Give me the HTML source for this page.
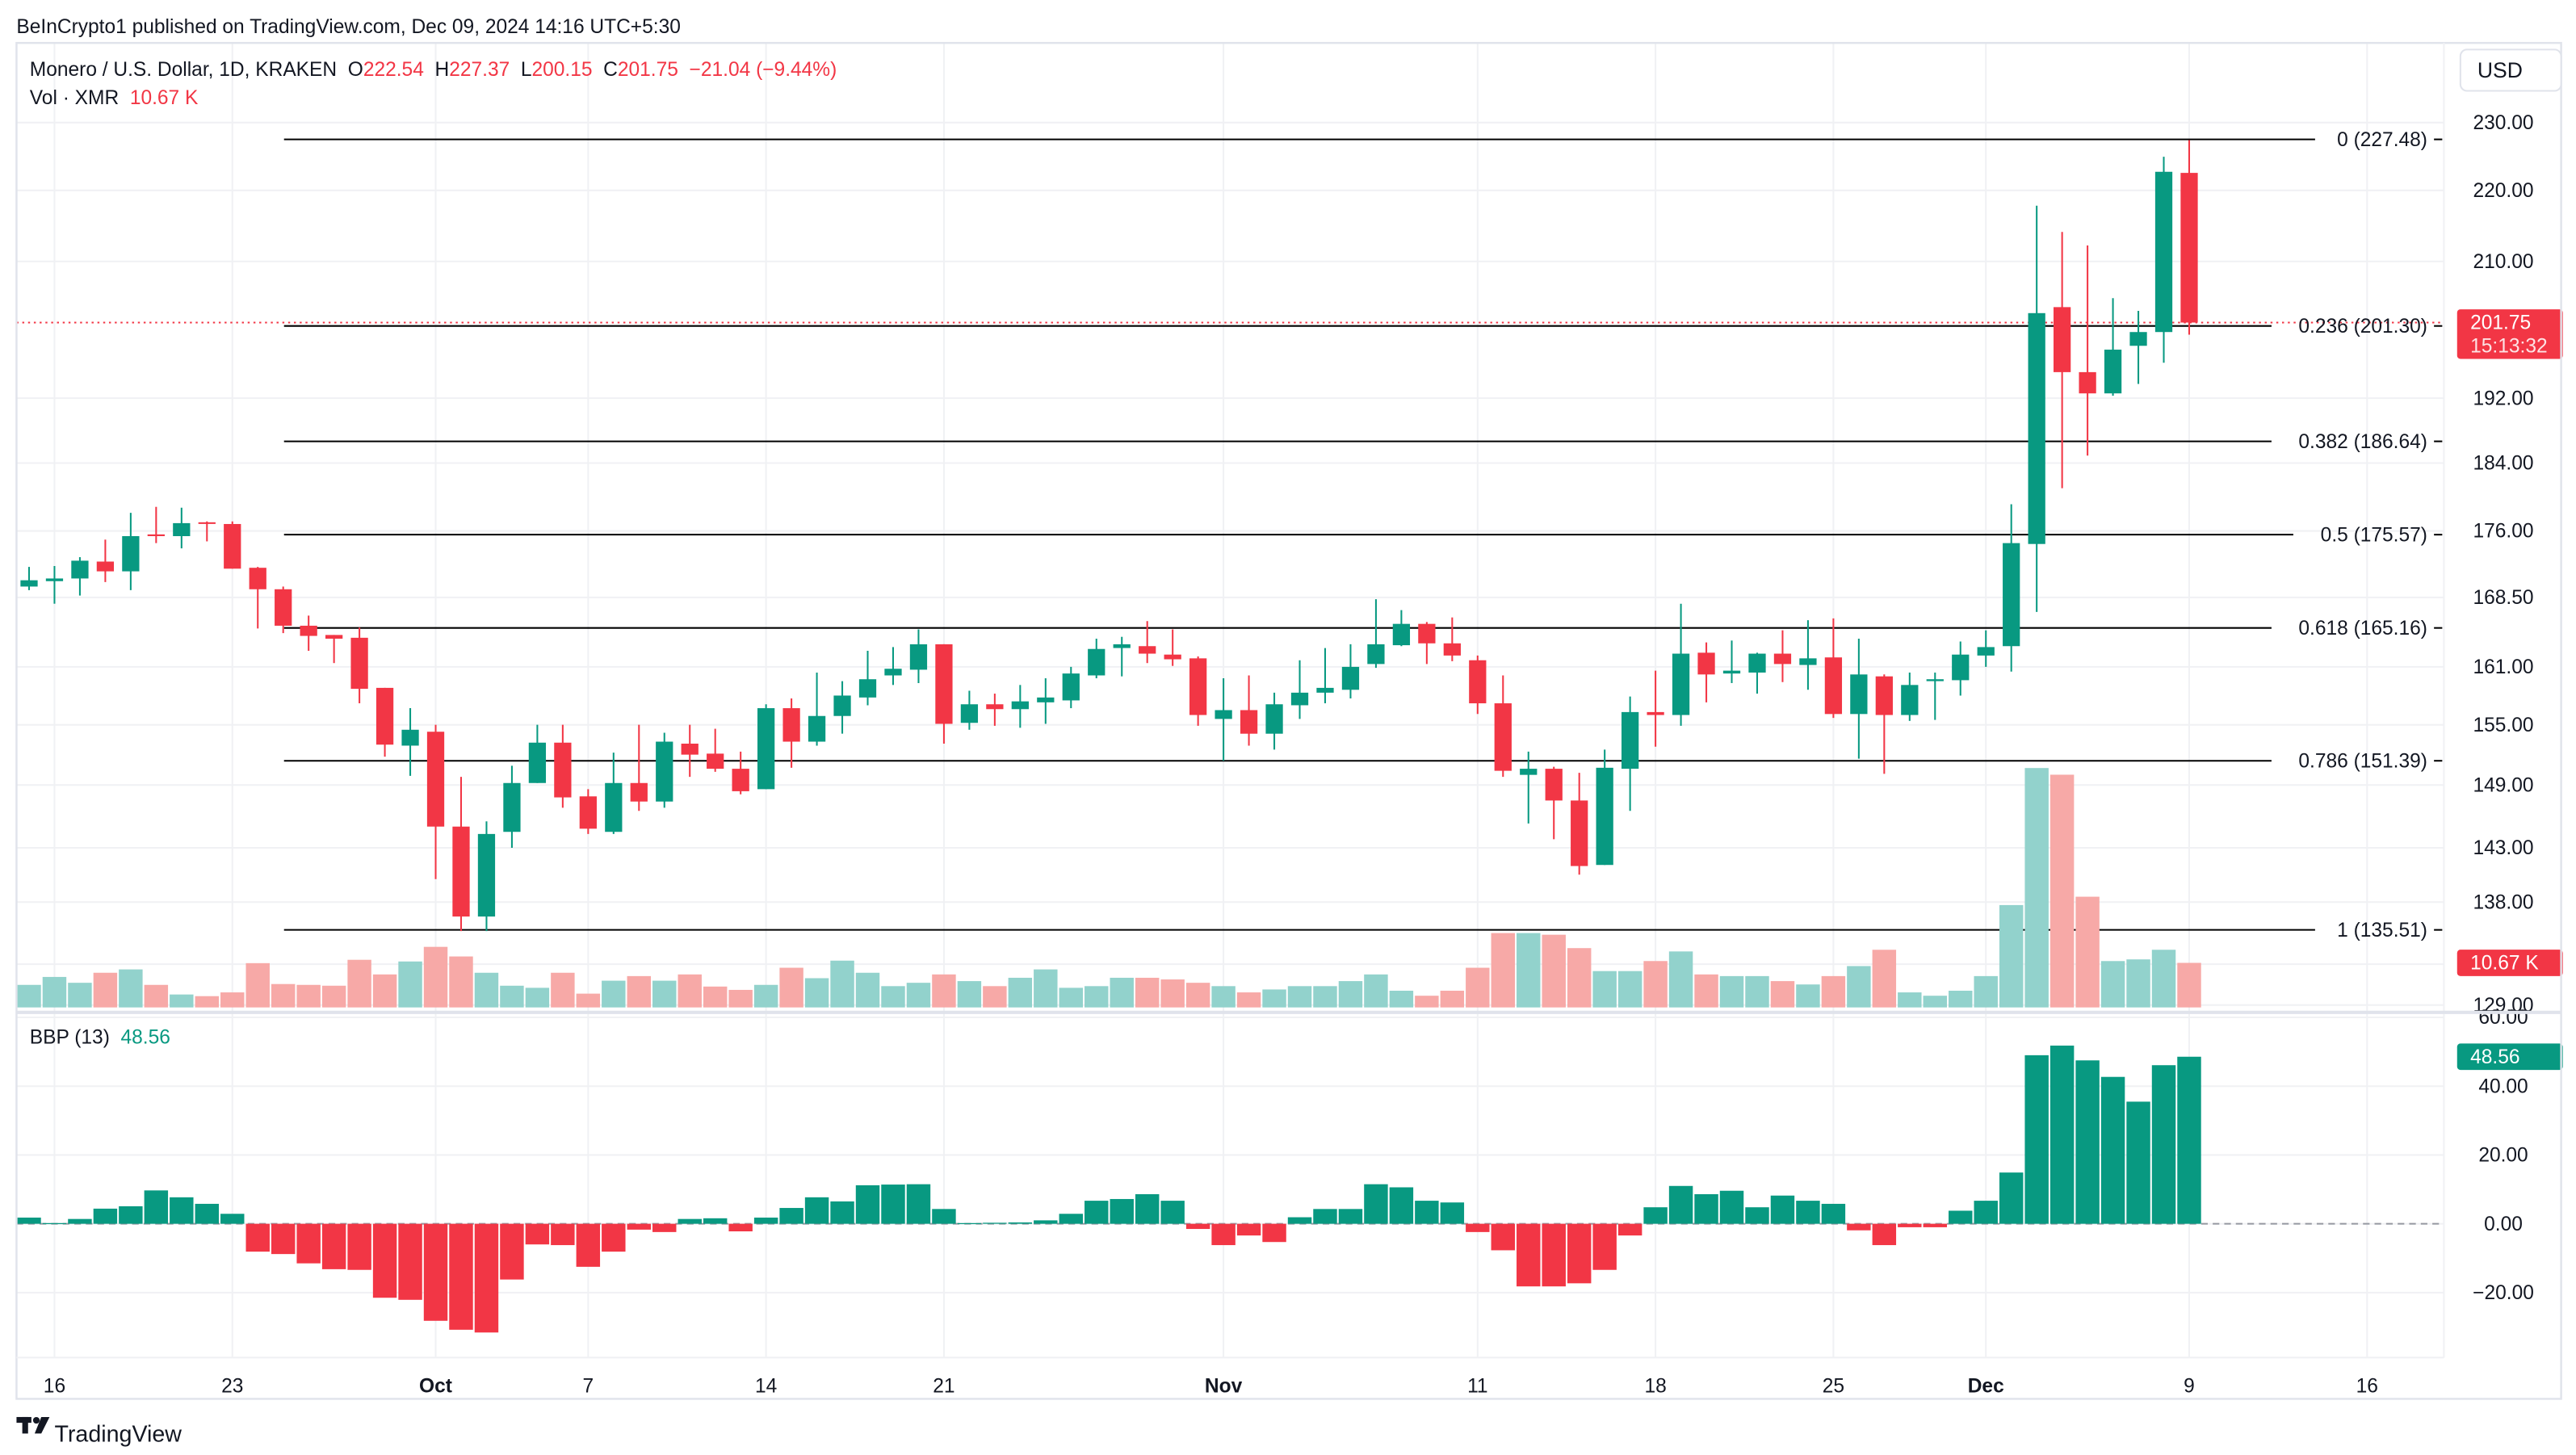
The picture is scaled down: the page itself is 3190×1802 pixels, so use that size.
<!DOCTYPE html>
<html><head><meta charset="utf-8"><title>XMR/USD chart</title>
<style>
html,body{margin:0;padding:0;background:#fff;}
svg{display:block;font-family:"Liberation Sans",Arial,sans-serif;}
text{white-space:pre;}
</style></head>
<body>
<svg id="chart" width="3190" height="1802" viewBox="0 0 1560 881" preserveAspectRatio="none" xmlns="http://www.w3.org/2000/svg" xml:space="preserve">
<rect x="0" y="0" width="1560" height="881" fill="#ffffff"/>
<text x="10" y="20" font-size="12" fill="#131722">BeInCrypto1 published on TradingView.com, Dec 09, 2024 14:16 UTC+5:30</text>
<g id="grid"></g>
<g id="fib"></g>
<g id="vol"></g>
<g id="candles"></g>
<g id="bbp"></g>
<g id="axes"></g>
<rect x="10" y="26" width="1541" height="821" fill="none" stroke="#e0e3eb" stroke-width="1.2"/>
<line x1="1480" y1="26" x2="1480" y2="822" stroke="#f0f1f4" stroke-width="1"/>
<line x1="10" y1="613" x2="1551" y2="613" stroke="#e0e3eb" stroke-width="2"/>
<line x1="10" y1="822" x2="1480" y2="822" stroke="#f0f1f4" stroke-width="1"/>
<g>
<text x="18" y="46" font-size="12" fill="#131722">Monero / U.S. Dollar, 1D, KRAKEN  O<tspan fill="#f23645">222.54</tspan>  H<tspan fill="#f23645">227.37</tspan>  L<tspan fill="#f23645">200.15</tspan>  C<tspan fill="#f23645">201.75</tspan>  <tspan fill="#f23645">−21.04 (−9.44%)</tspan></text>
<text x="18" y="63" font-size="12" fill="#131722">Vol · XMR  <tspan fill="#f23645">10.67 K</tspan></text>
<text x="18" y="632" font-size="12" fill="#131722">BBP (13)  <tspan fill="#089981">48.56</tspan></text>
</g>
<g>
<rect x="1490" y="30" width="61" height="25" rx="4" fill="#fff" stroke="#e0e3eb"/>
<text x="1514" y="47" font-size="13" fill="#131722" text-anchor="middle">USD</text>
</g>
<g>
<rect x="10" y="858" width="9" height="3.5" fill="#131722"/>
<rect x="13.5" y="858" width="3.5" height="10" fill="#131722"/>
<circle cx="22" cy="860" r="2" fill="#131722"/>
<polygon points="25,858 30,858 25,868 21,868" fill="#131722"/>
<text x="33" y="873" font-size="14" fill="#131722">TradingView</text>
</g>
</svg>
<script>
// ===== data =====
const opens  = [169.7,170.3,170.6,172.5,171.4,175.6,175.4,177.0,176.8,171.8,169.4,165.4,164.4,164.1,158.8,152.9,154.3,145.0,136.7,144.5,149.2,153.2,147.9,144.5,149.2,147.4,153.1,152.1,150.6,148.6,156.7,153.3,155.9,157.8,160.1,160.7,163.4,155.2,157.1,156.6,157.3,157.5,160.1,163.0,163.2,162.3,161.9,155.6,156.5,154.1,157.0,158.3,158.6,161.3,163.3,165.6,163.5,161.7,157.2,150.0,150.6,147.5,141.4,150.6,156.3,156.0,162.5,160.3,160.4,162.4,161.2,162.0,156.1,160.0,156.0,159.5,159.6,162.2,163.2,174.5,203.8,195.3,192.6,198.7,200.5,222.54];
const highs  = [171.9,172.0,173.0,175.0,178.1,178.8,178.7,177.1,177.1,171.9,169.7,166.5,164.4,165.2,158.8,156.7,155.0,149.8,145.5,150.9,155.0,155.0,148.6,152.2,155.0,154.2,155.0,154.6,152.3,157.1,157.7,160.4,159.5,162.7,163.1,165.0,163.4,158.5,158.2,159.1,159.8,161.0,164.0,164.2,165.9,165.0,162.1,159.8,160.1,158.3,161.7,163.0,163.4,168.3,167.1,165.8,166.3,162.2,160.1,152.3,150.8,150.2,152.5,157.9,160.6,167.8,163.6,163.8,162.5,164.9,166.0,166.2,164.0,160.2,160.4,160.4,163.7,164.9,179.1,217.8,214.1,212.2,205.0,203.3,224.9,227.37];
const lows   = [169.3,167.8,168.7,170.2,169.3,174.6,174.0,174.8,171.7,165.1,164.6,162.7,161.4,157.2,151.8,149.9,140.1,135.4,135.4,143.0,149.2,146.8,144.3,144.3,146.5,146.8,149.8,150.3,148.1,148.6,150.7,152.9,154.1,157.0,159.1,159.3,153.1,154.5,154.9,154.7,155.1,156.7,159.8,160.0,161.4,161.1,154.9,151.4,152.9,152.5,155.6,157.2,157.7,160.9,163.2,161.3,161.6,156.1,149.8,145.3,143.8,140.5,141.4,146.5,152.8,154.9,157.3,159.3,158.2,159.4,158.6,155.7,151.6,150.1,155.4,155.5,158.0,161.0,160.5,166.9,181.0,184.9,192.3,193.8,196.5,200.15];
const closes = [170.4,170.6,172.6,171.4,175.4,175.4,176.9,176.9,171.7,169.4,165.4,164.3,164.0,158.7,153.0,154.5,145.0,136.7,144.3,149.2,153.2,147.8,144.8,149.2,147.4,153.3,152.0,150.6,148.4,156.7,153.3,155.9,158.0,159.7,160.8,163.4,155.1,157.1,156.6,157.4,157.8,160.3,162.9,163.4,162.4,161.8,156.0,156.5,154.1,157.1,158.3,158.8,161.0,163.4,165.6,163.5,162.2,157.2,150.4,150.6,147.5,141.3,150.7,156.3,156.0,162.4,160.2,160.6,162.4,161.3,161.9,156.1,160.2,156.0,159.1,159.7,162.3,163.1,174.6,203.0,195.3,192.6,198.2,200.5,222.7,201.75];
const volumes = [5.4,7.3,5.9,8.3,9.1,5.4,3.1,2.7,3.6,10.6,5.6,5.4,5.2,11.4,7.9,11.0,14.5,12.2,8.3,5.2,4.7,8.3,3.3,6.4,7.5,6.4,7.9,5.0,4.2,5.4,9.5,7.0,11.2,8.3,5.1,5.9,7.9,6.3,5.1,7.1,9.1,4.7,5.1,7.1,7.1,6.7,5.9,5.1,3.6,4.3,5.1,5.1,6.3,7.9,4.0,2.8,4.0,9.5,17.8,17.8,17.4,14.2,8.7,8.7,11.1,13.4,7.9,7.5,7.5,6.3,5.5,7.5,9.9,13.8,3.6,2.8,4.0,7.5,24.5,57.3,55.7,26.5,11.1,11.5,13.8,10.67];
const bbpValues = [1.8,0.2,1.4,4.4,5.1,9.7,7.7,5.8,2.9,-8.1,-8.8,-11.5,-13.2,-13.4,-21.5,-22.1,-28.2,-30.8,-31.6,-16.2,-6.0,-6.2,-12.5,-8.1,-1.7,-2.4,1.4,1.6,-2.2,1.8,4.6,7.7,6.5,11.2,11.4,11.5,4.3,0.2,0.3,0.4,1.0,2.9,6.7,7.2,8.6,6.7,-1.5,-6.2,-3.4,-5.3,1.9,4.3,4.3,11.5,10.6,6.7,6.2,-2.4,-7.7,-18.2,-18.2,-17.3,-13.4,-3.4,4.8,11.0,8.6,9.6,4.8,8.2,6.7,5.8,-1.9,-6.2,-1.0,-1.0,3.8,6.7,14.9,49.0,51.8,47.5,42.7,35.5,46.1,48.56];
const priceTicks = [230,220,210,192,184,176,168.5,161,155,149,143,138,132.5,129];
const priceTickLabels = ["230.00","220.00","210.00","192.00","184.00","176.00","168.50","161.00","155.00","149.00","143.00","138.00","132.50","129.00"];
const bbpTicks = [60,40,20,0,-20];
const bbpTickLabels = ["60.00","40.00","20.00","0.00","−20.00"];
const fibRatios = ["0","0.236","0.382","0.5","0.618","0.786","1"];
const fibPrices = [227.48,201.30,186.64,175.57,165.16,151.39,135.51];
const timeTickIndex = [1,8,16,22,29,36,47,57,64,71,77,85,92];
const timeTickLabels = ["16","23","Oct","7","14","21","Nov","11","18","25","Dec","9","16"];
const lastPrice = 201.75;
const lastVolume = 10.67;
const lastBBP = 48.56;

// ===== scales =====
const NS = "http://www.w3.org/2000/svg";
const xOf = i => 17.6 + i * 15.39;
const yP = p => 5099 - 924 * Math.log(p);
const yV = v => 610 - v * 2.53;
const yB = b => 741 - b * 2.083;
const GREEN = "#089981", RED = "#f23645";
function mk(tag, attrs, parent) {
  const e = document.createElementNS(NS, tag);
  for (const k in attrs) e.setAttribute(k, attrs[k]);
  parent.appendChild(e);
  return e;
}
const gGrid = document.getElementById("grid");
const gFib = document.getElementById("fib");
const gVol = document.getElementById("vol");
const gC = document.getElementById("candles");
const gB = document.getElementById("bbp");
const gA = document.getElementById("axes");

timeTickIndex.forEach((ti, k) => {
  const x = xOf(ti);
  const l = mk("line", {x1: x, x2: x, y1: 26, y2: 822, stroke: "#f0f1f4", "stroke-width": 1}, gGrid);
  
  
  const t = mk("text", {x: x, y: 843, "font-size": 12, fill: "#131722", "text-anchor": "middle", "font-weight": /[A-Za-z]/.test(timeTickLabels[k]) ? "bold" : "normal"}, gA);
  t.textContent = timeTickLabels[k];
  
  
});
priceTicks.forEach((p, k) => {
  const y = yP(p);
  const l = mk("line", {x1: 10, x2: 1480, y1: y, y2: y, stroke: "#f0f1f4", "stroke-width": 1}, gGrid);
  
  
  const t = mk("text", {x: 1516, y: y + 4, "font-size": 12, fill: "#131722", "text-anchor": "middle"}, gA);
  t.textContent = priceTickLabels[k];
  
  
});
bbpTicks.forEach((b, k) => {
  const y = yB(b);
  const l = mk("line", {x1: 10, x2: 1480, y1: y, y2: y, stroke: "#f0f1f4", "stroke-width": 1}, gGrid);
  
  
  const t = mk("text", {x: 1516, y: y + 4, "font-size": 12, fill: "#131722", "text-anchor": "middle"}, gA);
  t.textContent = bbpTickLabels[k];
  
  
});

fibPrices.forEach((p, k) => {
  const y = yP(p);
  const label = fibRatios[k] + " (" + p.toFixed(2) + ")";
  const w = label.length * 6.6 + 4;
  const l = mk("line", {x1: 172, x2: 1472 - w, y1: y, y2: y, stroke: "#000", "stroke-width": 1}, gFib);
  
  
  const t = mk("text", {x: 1470, y: y + 4, "font-size": 12, fill: "#131722", "text-anchor": "end"}, gFib);
  t.textContent = label;
  
  
  const d = mk("line", {x1: 1474, x2: 1479, y1: y, y2: y, stroke: "#000", "stroke-width": 1}, gFib);
  
  
});

volumes.forEach((v, i) => {
  const up = closes[i] >= opens[i];
  const r = mk("rect", {x: xOf(i) - 7.2, y: yV(v), width: 14.4, height: 610 - yV(v), fill: up ? "#92d2cc" : "#f7a9a7"}, gVol);
  
  
});

const lp = mk("line", {x1: 10, x2: 1480, y1: yP(lastPrice), y2: yP(lastPrice), stroke: RED, "stroke-width": 1, "stroke-dasharray": "1.2 2.3"}, gGrid);



opens.forEach((o, i) => {
  const c = closes[i], up = c >= o, col = up ? GREEN : RED, x = xOf(i);
  const w = mk("line", {x1: x, x2: x, y1: yP(highs[i]), y2: yP(lows[i]), stroke: col, "stroke-width": 1}, gC);
  
  
  const top = yP(Math.max(o, c)), bot = yP(Math.min(o, c));
  const b = mk("rect", {x: x - 5.2, y: top, width: 10.4, height: Math.max(1, bot - top), fill: col}, gC);
  
  
});

const zl = mk("line", {x1: 10, x2: 1480, y1: yB(0), y2: yB(0), stroke: "#9598a1", "stroke-width": 1, "stroke-dasharray": "4 3"}, gB);


bbpValues.forEach((b, i) => {
  const y0 = yB(0), y1 = yB(b);
  const r = mk("rect", {x: xOf(i) - 7.2, y: Math.min(y0, y1), width: 14.4, height: Math.max(0.6, Math.abs(y1 - y0)), fill: b >= 0 ? GREEN : RED}, gB);
  
  
});

function tag(y, h, color, lines, name) {
  const g = mk("g", {}, gA);
  
  
  mk("rect", {x: 1488, y: y, width: 64, height: h, rx: 2, fill: color}, g);
  lines.forEach((s, k) => {
    const t = mk("text", {x: 1496, y: y + 12 + k * 14, "font-size": 12, fill: k ? "#fde2e4" : "#fff"}, g);
    t.textContent = s;
  });
}
tag(yP(lastPrice) - 8, 30, RED, [lastPrice.toFixed(2), "15:13:32"], "last-price-label");
tag(yV(lastVolume) - 8, 16, RED, [lastVolume.toFixed(2) + " K"], "last-volume-label");
tag(yB(lastBBP) - 8, 16, GREEN, [lastBBP.toFixed(2)], "last-bbp-label");
</script>
</body></html>
